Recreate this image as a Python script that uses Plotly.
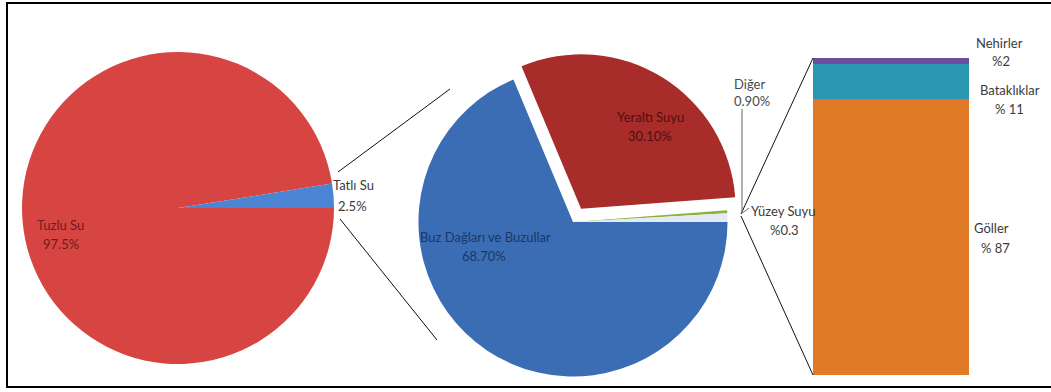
import plotly.graph_objects as go

W, H = 1051, 392

# ---- data ---------------------------------------------------------------
world_labels = ["Tuzlu Su", "Tatlı Su"]
world_values = [97.5, 2.5]
world_colors = ["#d64541", "#4a84d2"]

fresh_labels = ["Buz Dağları ve Buzullar", "Yeraltı Suyu", "Yüzey Suyu", "Diğer"]
fresh_values = [68.70, 30.10, 0.30, 0.90]
fresh_text = ["{:.2f}%", "{:.2f}%", "%{:.1f}", "{:.2f}%"]
fresh_colors = ["#3a6db3", "#a82c2a", "#8ab33c", "#e3eaf3"]
fresh_pull = [0, 0.1, 0, 0]

surface_labels = ["Göller", "Bataklıklar", "Nehirler"]
surface_values = [87, 11, 2]
surface_text = ["% {}", "% {}", "%{}"]
surface_colors = ["#e07a26", "#2b97b2", "#6c4f9e"]


def px(x):
    return x / W


def py(y):
    return 1 - y / H


fig = go.Figure()

# salt / fresh water split
fig.add_trace(go.Pie(
    labels=world_labels, values=world_values, sort=False,
    direction="clockwise", rotation=90,
    marker=dict(colors=world_colors, line=dict(width=0)),
    textinfo="none", hoverinfo="label+percent", showlegend=False,
    domain=dict(x=[px(178 - 156), px(178 + 156)], y=[py(208 + 156), py(208 - 156)]),
))

# fresh water breakdown
fig.add_trace(go.Pie(
    labels=fresh_labels, values=fresh_values, sort=False,
    direction="clockwise", rotation=90, pull=fresh_pull,
    marker=dict(colors=fresh_colors, line=dict(width=0)),
    textinfo="none", hoverinfo="label+percent", showlegend=False,
    domain=dict(x=[px(573 - 171), px(573 + 171)], y=[0, py(222 - 170)]),
))

# surface water stacked bar
for name, val, col in zip(surface_labels, surface_values, surface_colors):
    fig.add_trace(go.Bar(
        x=["Yüzey Suyu"], y=[val], name=name, marker=dict(color=col, line=dict(width=0)),
        width=1, showlegend=False, hoverinfo="name+y",
    ))

font_main = "Lato, Open Sans, sans-serif"
ann = []


def two_line(x1, y1, x2, y2, top, bottom, color, size=13):
    for (x, y, t) in ((x1, y1, top), (x2, y2, bottom)):
        ann.append(dict(x=px(x), y=py(y), xref="paper", yref="paper",
                        text=t, showarrow=False,
                        xanchor="center", yanchor="middle",
                        font=dict(family=font_main, size=size, color=color)))


# left pie labels
two_line(60, 225, 61, 244, world_labels[0], f"{world_values[0]}%", "#6e1c1c")
two_line(353, 185, 352, 206, world_labels[1], f"{world_values[1]}%", "#3a3a3a")

# middle pie labels
fresh_pos = [((485, 237), (484, 256), "#1c3766"),
             ((650, 117), (650, 136), "#4e1010"),
             ((783, 211), (784, 230), "#3a3a3a"),
             ((749, 84), (752, 101), "#4a4a4a")]
for lab, val, fmt, (p1, p2, col) in zip(fresh_labels, fresh_values, fresh_text, fresh_pos):
    two_line(p1[0], p1[1], p2[0], p2[1], lab, fmt.format(val), col)

# bar labels
surface_pos = [((991, 228), (995, 248)),
               ((1010, 90), (1009, 109)),
               ((999, 43), (1001, 61))]
for lab, val, fmt, (p1, p2) in zip(surface_labels, surface_values, surface_text, surface_pos):
    two_line(p1[0], p1[1], p2[0], p2[1], lab, fmt.format(val), "#3a3a3a")

shapes = []


def seg(x0, y0, x1, y1, color="#111111", width=1):
    shapes.append(dict(type="line", xref="paper", yref="paper",
                       x0=px(x0), y0=py(y0), x1=px(x1), y1=py(y1),
                       line=dict(color=color, width=width)))


# connectors from the fresh-water slice to the second pie
seg(338, 172, 450, 89)
seg(340, 219, 437, 340)
# connectors from the surface-water slice to the bar
seg(741, 214, 813, 58)
seg(741, 216, 813, 375)
# leader lines
seg(742, 109, 742, 211, color="#666666")
seg(741, 214, 749, 208, color="#666666")

# outer frame
shapes.append(dict(type="rect", xref="paper", yref="paper",
                   x0=px(7), y0=py(387), x1=px(1060), y1=py(3),
                   line=dict(color="#000000", width=2)))

fig.update_layout(
    width=W, height=H,
    margin=dict(l=0, r=0, t=0, b=0),
    paper_bgcolor="white", plot_bgcolor="white",
    barmode="stack", bargap=0,
    xaxis=dict(domain=[px(813), px(969)], range=[-0.5, 0.5], visible=False, fixedrange=True),
    yaxis=dict(domain=[py(375), py(58)], range=[0, 100], visible=False, fixedrange=True),
    annotations=ann, shapes=shapes,
)

fig.write_html("out.html")
